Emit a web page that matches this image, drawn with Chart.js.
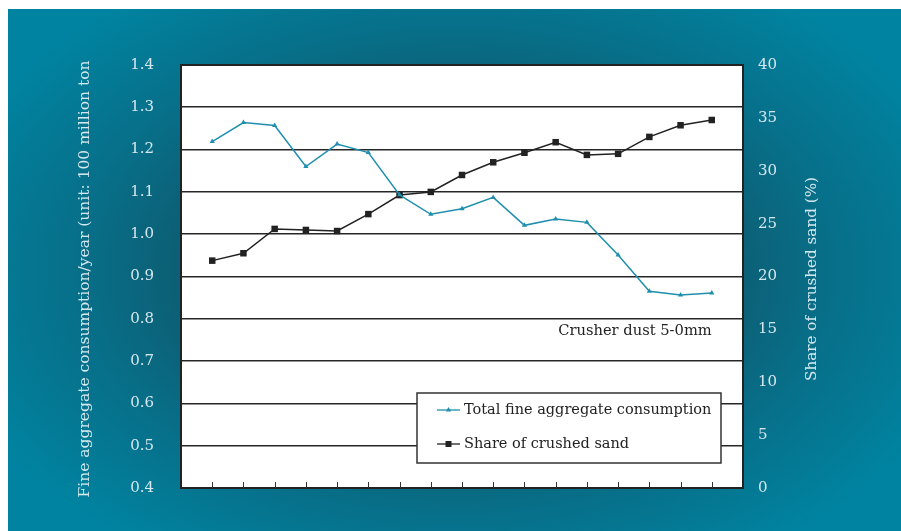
<!DOCTYPE html>
<html>
<head>
<meta charset="utf-8">
<script src="https://cdn.jsdelivr.net/npm/chart.js"></script>
<style>
    html, body { margin: 0; padding: 0; background: #fff; width: 901px; height: 531px; overflow: hidden; }
    #frame {
        position: absolute; left: 8px; top: 9px; width: 893px; height: 522px;
        background: radial-gradient(ellipse 530px 340px at 50% 50%, #0f4a5b 0%, #0f5364 38%, #086e88 70%, #0083a0 100%);
    }
    #chart { display: block; }
</style>
</head>
<body>
<div id="frame"><canvas id="chart" width="893" height="522"></canvas></div>
<script>
// Fine aggregate consumption vs share of crushed sand

const periods = [1, 2, 3, 4, 5, 6, 7, 8, 9, 10, 11, 12, 13, 14, 15, 16, 17];
const totalConsumption = [1.219, 1.264, 1.257, 1.160, 1.213, 1.193, 1.093, 1.047, 1.060, 1.087,
                          1.021, 1.036, 1.028, 0.951, 0.865, 0.856, 0.861];
const crushedShare = [21.5, 22.2, 24.5, 24.4, 24.3, 25.9, 27.7, 28.0, 29.6, 30.8,
                      31.7, 32.7, 31.5, 31.6, 33.2, 34.3, 34.8];
const leftTicks = [0.4, 0.5, 0.6, 0.7, 0.8, 0.9, 1.0, 1.1, 1.2, 1.3, 1.4];
const rightTicks = [0, 5, 10, 15, 20, 25, 30, 35, 40];

const leftTitle = 'Fine aggregate consumption/year (unit: 100 million ton';
const rightTitle = 'Share of crushed sand (%)';
const noteText = 'Crusher dust 5-0mm';

const FONT = "'DejaVu Serif', serif";
const AXIS_TEXT = '#d6e8ee';
const BLUE = '#1f8fad';
const DARK = '#222222';

const framePlugin = {
    id: 'frame',
    beforeDraw(chart) {
        const { ctx, chartArea: a } = chart;
        ctx.save();
        ctx.fillStyle = '#ffffff';
        ctx.fillRect(a.left, a.top, a.right - a.left, a.bottom - a.top);
        ctx.restore();
    },
    afterDraw(chart) {
        const { ctx, chartArea: a, scales } = chart;
        ctx.save();

        // plot border
        ctx.strokeStyle = DARK;
        ctx.lineWidth = 2;
        ctx.strokeRect(a.left, a.top, a.right - a.left, a.bottom - a.top);

        // inward tick marks on the category axis
        ctx.lineWidth = 1;
        ctx.strokeStyle = '#333';
        periods.forEach(p => {
            const x = Math.round(scales.x.getPixelForValue(p)) + 0.5;
            ctx.beginPath();
            ctx.moveTo(x, a.bottom);
            ctx.lineTo(x, a.bottom - 6);
            ctx.stroke();
        });

        // note
        ctx.fillStyle = DARK;
        ctx.font = '14.7px ' + FONT;
        ctx.textAlign = 'right';
        ctx.textBaseline = 'middle';
        ctx.fillText(noteText, scales.x.getPixelForValue(periods[periods.length - 1]), a.top + 266);

        // legend box
        const lx = a.left + 236, ly = a.top + 328, lw = 304, lh = 70;
        ctx.fillStyle = '#ffffff';
        ctx.fillRect(lx, ly, lw, lh);
        ctx.strokeStyle = '#333';
        ctx.lineWidth = 1.5;
        ctx.strokeRect(lx, ly, lw, lh);

        ctx.font = '14.5px ' + FONT;
        chart.data.datasets.forEach((ds, i) => {
            const y = ly + 17 + i * 34;
            ctx.strokeStyle = ds.borderColor;
            ctx.lineWidth = 1.3;
            ctx.beginPath();
            ctx.moveTo(lx + 20, y);
            ctx.lineTo(lx + 43, y);
            ctx.stroke();
            ctx.fillStyle = ds.borderColor;
            const mx = lx + 31.5;
            if (ds.pointStyle === 'rect') {
                ctx.fillRect(mx - 3, y - 3, 6, 6);
            } else {
                ctx.beginPath();
                ctx.moveTo(mx, y - 3);
                ctx.lineTo(mx + 2.6, y + 1.5);
                ctx.lineTo(mx - 2.6, y + 1.5);
                ctx.closePath();
                ctx.fill();
            }
            ctx.fillStyle = DARK;
            ctx.textAlign = 'left';
            ctx.fillText(ds.label, lx + 47, y);
        });

        // axis titles
        ctx.fillStyle = AXIS_TEXT;
        ctx.textAlign = 'center';
        ctx.textBaseline = 'middle';
        ctx.save();
        ctx.font = '15.5px ' + FONT;
        ctx.translate(77, 270);
        ctx.rotate(-Math.PI / 2);
        ctx.fillText(leftTitle, 0, 0);
        ctx.restore();
        ctx.save();
        ctx.font = '15.2px ' + FONT;
        ctx.translate(804, 270);
        ctx.rotate(-Math.PI / 2);
        ctx.fillText(rightTitle, 0, 0);
        ctx.restore();

        ctx.restore();
    }
};

new Chart(document.getElementById('chart'), {
    type: 'line',
    data: {
        datasets: [
            {
                label: 'Total fine aggregate consumption',
                data: periods.map((p, i) => ({ x: p, y: totalConsumption[i] })),
                yAxisID: 'y',
                borderColor: BLUE,
                backgroundColor: BLUE,
                borderWidth: 1.5,
                pointStyle: 'triangle',
                pointRadius: 3,
                pointBorderWidth: 0,
                tension: 0
            },
            {
                label: 'Share of crushed sand',
                data: periods.map((p, i) => ({ x: p, y: crushedShare[i] })),
                yAxisID: 'y2',
                borderColor: DARK,
                backgroundColor: DARK,
                borderWidth: 1.5,
                pointStyle: 'rect',
                pointRadius: 4.6,
                pointBorderWidth: 0,
                tension: 0
            }
        ]
    },
    options: {
        responsive: false,
        animation: false,
        devicePixelRatio: 1,
        layout: { padding: { left: 20, right: 20, top: 56, bottom: 43 } },
        plugins: { legend: { display: false }, tooltip: { enabled: false } },
        scales: {
            x: {
                type: 'linear',
                min: 0,
                max: periods.length + 1,
                grid: { display: false },
                border: { display: false },
                ticks: { display: false, stepSize: 1 },
                afterFit: s => { s.height = 0; }
            },
            y: {
                position: 'left',
                min: leftTicks[0],
                max: leftTicks[leftTicks.length - 1],
                afterBuildTicks: s => { s.ticks = leftTicks.map(v => ({ value: v })); },
                ticks: {
                    color: AXIS_TEXT,
                    padding: 27,
                    font: { family: FONT, size: 15 },
                    callback: v => Number(v).toFixed(1)
                },
                grid: { color: '#262626', lineWidth: 1.6, drawTicks: false },
                border: { display: false },
                afterFit: s => { s.width = 153; }
            },
            y2: {
                position: 'right',
                min: rightTicks[0],
                max: rightTicks[rightTicks.length - 1],
                afterBuildTicks: s => { s.ticks = rightTicks.map(v => ({ value: v })); },
                ticks: {
                    color: AXIS_TEXT,
                    padding: 15,
                    font: { family: FONT, size: 15 }
                },
                grid: { drawOnChartArea: false, drawTicks: false },
                border: { display: false },
                afterFit: s => { s.width = 138; }
            }
        }
    },
    plugins: [framePlugin]
});
</script>
</body>
</html>
